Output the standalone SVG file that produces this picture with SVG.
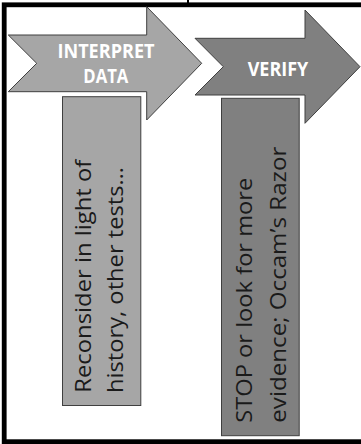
<svg xmlns="http://www.w3.org/2000/svg" width="361" height="444" viewBox="0 0 361 444">
<style>
.arrow{stroke:#3f3f3f;stroke-width:1}
.a1{fill:#a6a6a6}
.a2{fill:#808080}
.head{font-family:"Open Sans","DejaVu Sans",sans-serif;font-weight:bold;font-size:20px;fill:#ffffff}
.body{font-family:"Open Sans","DejaVu Sans",sans-serif;font-size:22px;fill:#1a1a1a}
.box{stroke:#3f3f3f;stroke-width:1}
</style>
<rect x="4.2" y="4.8" width="420" height="436.9" fill="#ffffff" stroke="#000000" stroke-width="4.8"/>
<g id="connectors">
<line x1="188" y1="0" x2="188" y2="3.5" stroke="#000000" stroke-width="2"/>
</g>
<g id="interpret-data">
<polygon class="arrow a1" points="8.3,35 146.7,35 146.7,6.7 201.7,63.3 146.7,120 146.7,91.7 8.3,91.7 36.7,63.3"/>
<text class="head" x="106" y="58.3" text-anchor="middle" textLength="97" lengthAdjust="spacingAndGlyphs">INTERPRET</text>
<text class="head" x="105.8" y="83.3" text-anchor="middle" textLength="45" lengthAdjust="spacingAndGlyphs">DATA</text>
</g>
<g id="verify">
<polygon class="arrow a2" points="195,38.3 305,38.3 305,10 360,66.7 305,123.3 305,95 195,95 223.3,66.7"/>
<text class="head" x="278" y="75.5" text-anchor="middle" textLength="60.6" lengthAdjust="spacingAndGlyphs">VERIFY</text>
</g>
<g id="reconsider">
<rect class="box a1" x="62.5" y="96.7" width="78.3" height="308.8"/>
<text class="body" transform="translate(90.7,392.7) rotate(-90)" textLength="233" lengthAdjust="spacingAndGlyphs">Reconsider in light of</text>
<text class="body" transform="translate(123.3,393) rotate(-90)" textLength="226" lengthAdjust="spacingAndGlyphs">history, other tests…</text>
</g>
<g id="stop">
<rect class="box a2" x="221.5" y="98.3" width="77.7" height="337.4"/>
<text class="body" transform="translate(251.7,422.7) rotate(-90)" textLength="245" lengthAdjust="spacingAndGlyphs">STOP or look for more</text>
<text class="body" transform="translate(286,422.7) rotate(-90)" textLength="276" lengthAdjust="spacingAndGlyphs">evidence; Occam’s Razor</text>
</g>
</svg>
